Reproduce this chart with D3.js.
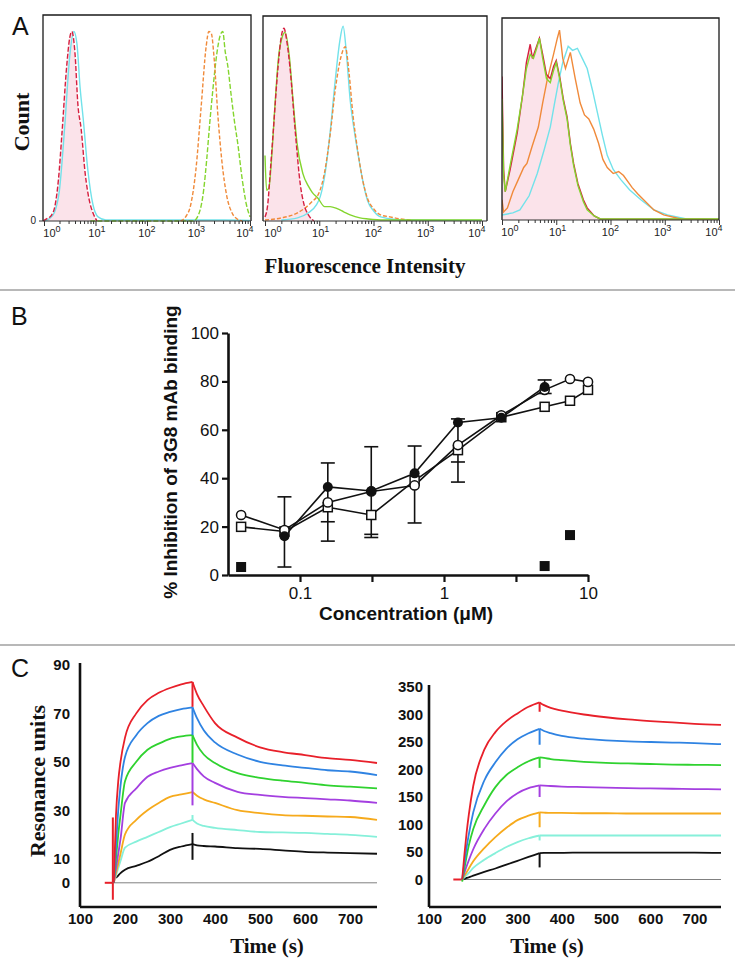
<!DOCTYPE html>
<html><head><meta charset="utf-8">
<script src="https://cdn.jsdelivr.net/npm/d3@7"></script>
<style>body{margin:0;background:#fff}svg{display:block}</style>
</head><body><svg id="fig" width="735" height="970"></svg>
<script>
// ---------------- DATA ----------------
// Panel A: flow cytometry histograms, points are [log10(intensity), % of max count]
const aDecades = [0, 1, 2, 3, 4];
const a1Red = [[-0.05,0],[0.05,1],[0.15,3],[0.21,7],[0.28,20],[0.35,43],[0.44,75],[0.5,89],[0.54,92],[0.6,82],[0.66,56],[0.72,45],[0.8,23],[0.88,10],[0.95,4],[1.03,0]];
const a1Cyan = [[0.0,0],[0.1,1],[0.2,4],[0.3,15],[0.4,45],[0.5,80],[0.58,92],[0.64,86],[0.7,65],[0.76,50],[0.85,25],[0.95,8],[1.05,2],[1.2,0.5],[3.5,0.5],[4,0.3]];
const a1Orange = [[2.65,0],[2.75,2],[2.85,8],[2.95,25],[3.05,55],[3.15,85],[3.2,92],[3.25,91],[3.3,80],[3.38,50],[3.45,30],[3.55,12],[3.65,4],[3.75,1],[3.85,0]];
const a1Green = [[0.9,0],[2.9,0],[3.0,3],[3.1,15],[3.16,30],[3.22,48],[3.28,64],[3.36,82],[3.42,90],[3.47,92],[3.52,82],[3.57,75],[3.63,62],[3.7,48],[3.76,38],[3.85,20],[3.93,8],[4.0,2]];
const a2Red = [[0,2],[0.05,8],[0.1,25],[0.15,43],[0.24,75],[0.3,90],[0.35,94],[0.4,88],[0.46,75],[0.56,43],[0.65,18],[0.72,8],[0.8,3],[0.9,0]];
const a2Green = [[0,32],[0.03,15],[0.07,16],[0.12,30],[0.18,55],[0.25,80],[0.32,90],[0.37,92],[0.45,80],[0.52,58],[0.59,38],[0.7,23],[0.8,17],[0.87,14],[0.98,11],[1.1,7],[1.2,7],[1.33,6],[1.45,4.5],[1.57,3],[1.75,1.5],[1.9,1],[2.2,0.5],[4,0.5]];
const a2Cyan = [[0.3,0.5],[0.6,1.5],[0.8,4],[0.95,8],[1.02,12],[1.1,22],[1.2,43],[1.3,70],[1.38,88],[1.44,95],[1.5,82],[1.57,59],[1.64,45],[1.7,35],[1.8,20],[1.89,10],[2.0,5],[2.13,2],[2.5,0.5],[4,0.3]];
const a2Orange = [[0,0.5],[0.3,1.5],[0.6,4],[0.85,9],[1.0,14],[1.1,24],[1.2,42],[1.3,65],[1.4,80],[1.48,85],[1.55,72],[1.62,52],[1.7,36],[1.8,20],[1.89,11],[2.0,6],[2.13,3],[2.3,2],[2.5,1],[2.7,0.3]];
const a3Red = [[0,71],[0.03,25],[0.06,14],[0.15,25],[0.28,43],[0.38,62],[0.45,78],[0.52,87],[0.56,80],[0.6,83],[0.69,90],[0.75,82],[0.82,72],[0.89,70],[0.95,76],[1.0,79],[1.07,70],[1.13,60],[1.2,51],[1.26,38],[1.32,28],[1.4,18],[1.5,10],[1.57,6],[1.7,2],[1.81,0.5],[4,0.3]];
const a3Green = [[0,60],[0.03,22],[0.06,14],[0.15,27],[0.28,45],[0.38,62],[0.45,75],[0.52,82],[0.58,80],[0.64,85],[0.69,90],[0.75,80],[0.82,70],[0.89,68],[0.95,74],[1.0,78],[1.07,69],[1.13,59],[1.2,50],[1.26,37],[1.32,27],[1.4,17],[1.5,9],[1.57,5],[1.7,2],[1.81,0.5],[4,0.5]];
const a3Orange = [[0,10],[0.03,4],[0.1,6],[0.2,14],[0.3,20],[0.4,26],[0.46,28],[0.55,36],[0.67,46],[0.75,58],[0.83,69],[0.95,82],[1.02,90],[1.06,94],[1.12,80],[1.17,75],[1.26,83],[1.35,70],[1.44,58],[1.52,52],[1.6,50],[1.69,45],[1.78,38],[1.86,30],[1.94,26],[2.05,23],[2.15,24],[2.24,22],[2.4,16],[2.5,13],[2.61,10],[2.8,5],[2.98,2.5],[3.3,0.5],[4,0.3]];
const a3Cyan = [[0,2.5],[0.1,3],[0.2,3.5],[0.33,5],[0.5,12],[0.65,23],[0.78,35],[0.89,46],[0.97,58],[1.04,68],[1.12,78],[1.22,86],[1.3,84],[1.39,85],[1.48,80],[1.57,75],[1.67,64],[1.76,53],[1.85,42],[1.94,32],[2.05,25],[2.19,20],[2.35,15],[2.56,10],[2.8,5],[3.05,2.5],[3.4,0.5],[4,0.3]];

// Panel B: inhibition vs concentration (µM)
const concB = [0.039, 0.078, 0.156, 0.3125, 0.625, 1.25, 2.5, 5, 7.5, 10];
const openCircle  = [24.8, 18.6, 30, 34.5, 37, 53.7, 66, 76.5, 81, 79.8];
const openSquare  = [19.9, 18, 28, 24.8, 39, 51.6, 65.2, 69.5, 72, 76.5];
const filledCircle= [null, 16, 36.4, 34.7, 42, 63, 65, 77.7, null, null];
const filledSquare= [3.3, null, null, null, null, null, null, 3.7, 16.5, null];
const errLo  = [null, 3.3, 14, 15.5, 21.5, 38.4, null, 75, null, null];
const errMid = [null, null, 22, 16.8, null, 46.7, null, null, null, null];
const errHi  = [null, 32.3, 46.3, 53, 53.3, 64.5, null, 80.6, null, null];
const yTicksB = [0, 20, 40, 60, 80, 100];
const xTicksB = [0.1, 1, 10];
const xTickLabelsB = ["0.1", "1", "10"];
const xMinorB = [0.316, 3.16];

// Panel C: SPR sensorgrams (time in s, resonance units)
const tAssoc = [175, 180, 185, 190, 200, 225, 250, 275, 300, 325, 350];
const tDiss  = [350, 360, 375, 400, 450, 500, 550, 600, 650, 700, 760];
const cNames = ["red", "blue", "green", "purple", "orange", "cyan", "black"];
const leftAssoc = [
  [0, 28, 42, 50, 60, 70, 75.5, 78.5, 80.5, 82, 83],
  [0, 15, 30, 40, 52, 61, 66, 69, 70.6, 71.8, 72.5],
  [0, 10, 20, 28, 42, 50, 55, 57.5, 59.5, 60.5, 61],
  [0, 6, 12, 18, 33, 39, 43.8, 46, 47.5, 48.5, 49.5],
  [0, 4, 8, 12, 20, 26, 30, 33, 35.5, 36.5, 37.5],
  [0, 3, 6, 9, 14.5, 17, 19, 21, 23, 24.5, 26],
  [null, 2, 3, 4, 5.4, 7, 8.7, 11, 13.6, 15, 16]
];
const leftDiss = [
  [83, 78, 73, 66, 60, 56, 54, 52.8, 51.5, 50.8, 49.5],
  [72.5, 68, 63, 58, 53, 50, 48.5, 47.5, 46.5, 46, 44.5],
  [61, 57, 53, 49.5, 45.3, 43.4, 42.2, 41.3, 40.3, 39.7, 39],
  [49.5, 47, 44, 41.3, 37.6, 36.3, 35.5, 35, 34.5, 34, 33],
  [37.5, 36, 34.5, 33, 30, 28.8, 28, 27.7, 27.4, 27.2, 26],
  [26, 24.5, 23.5, 22.7, 21.8, 21, 20.8, 20.6, 20.2, 19.8, 19],
  [16, 15.5, 15.2, 15, 14.3, 14, 13.4, 12.8, 12.5, 12.3, 12]
];
const leftSpike = [[72.7], [61], [49.6], [32], [], [28], [20.6, 9.5]];
const leftPre = [[155, 0], [172, 0]];
const leftInjSpike = [173, -7, 27];
const leftYTicks = [0, 10, 30, 50, 70, 90];
const rightAssoc = [
  [0, 45, 85, 118, 170, 236, 268, 288, 302, 314, 322],
  [0, 30, 58, 82, 122, 180, 213, 238, 255, 266, 274],
  [-4, 20, 42, 62, 92, 135, 168, 190, 204, 215, 222],
  [0, 12, 24, 35, 55, 92, 120, 142, 157, 166, 171],
  [0, 7, 13, 20, 33, 57, 77, 94, 108, 116, 122],
  [0, 4, 8, 12, 21, 36, 48, 59, 68, 75, 80],
  [0, 1, 3, 4, 7, 14, 20, 27, 34, 41, 48]
];
const rightDiss = [
  [322, 317, 312, 307, 300, 295, 291, 288, 285.5, 283, 281],
  [274, 270, 266, 261, 256, 253, 251, 250, 249, 248, 246],
  [222, 221, 219, 217, 214, 212, 211, 210, 209, 208.5, 208],
  [171, 170.5, 170, 169, 168, 167, 166, 165.5, 165, 164.5, 164],
  [122, 121.5, 121, 121, 120.5, 120.5, 120, 120, 120, 120, 120],
  [80, 80, 80, 80, 80, 80, 80, 80, 80, 80, 80],
  [48, 48.5, 48.5, 48.5, 49, 49, 49, 49, 49, 49, 48.5]
];
const rightSpike = [[305], [245], [203], [150], [95], [71], [22]];
const rightPre = [[155, 0], [176, 0]];
const rightYTicks = [0, 50, 100, 150, 200, 250, 300, 350];
const xTicksC = [100, 200, 300, 400, 500, 600, 700];

// ---------------- STYLE ----------------
const SANS = "'Liberation Sans', Arial, Helvetica, sans-serif";
const SERIF = "'Liberation Serif', 'Times New Roman', serif";
const cCol = {red:"#e8202a", blue:"#2f83e2", green:"#2fd22f", purple:"#a43fe0", orange:"#f6aa1c", cyan:"#86f0da", black:"#111"};
const hRed = "#d61f3f", hCyan = "#72e2ea", hOrange = "#f08a3a", hGreen = "#84d52e", hFill = "#fbe3ea";

const svg = d3.select("#fig");
svg.append("rect").attr("width", 735).attr("height", 970).attr("fill", "#fff");
[290, 645].forEach(y => svg.append("line").attr("x1", 0).attr("x2", 735).attr("y1", y).attr("y2", y)
  .attr("stroke", "#a0a0a0").attr("stroke-width", 1.5));

function letter(t, x, y) {
  svg.append("text").attr("x", x).attr("y", y).text(t)
    .attr("font-family", SANS).attr("font-size", 25).attr("fill", "#111");
}
letter("A", 12, 35); letter("B", 11, 325); letter("C", 11, 677);

// ---------------- PANEL A ----------------
const boxes = [
  {left:43, right:251, top:15, base:221, x0:44, x4:250, zero:true, curve:d3.curveMonotoneX,
   series:[{d:a1Red, fill:true}, {d:a1Cyan, c:hCyan}, {d:a1Red, c:hRed, dash:"5,2"}, {d:a1Green, c:hGreen, dash:"5,2"}, {d:a1Orange, c:hOrange, dash:"4,2"}]},
  {left:263, right:487, top:16, base:221, x0:265, x4:482, zero:false, curve:d3.curveMonotoneX,
   series:[{d:a2Red, fill:true}, {d:a2Cyan, c:hCyan}, {d:a2Orange, c:hOrange, dash:"4,2"}, {d:a2Green, c:hGreen}, {d:a2Red, c:hRed, dash:"5,2"}]},
  {left:502, right:719, top:18, base:220, x0:502, x4:719, zero:false, curve:d3.curveLinear,
   series:[{d:a3Red, fill:true}, {d:a3Cyan, c:hCyan}, {d:a3Orange, c:hOrange}, {d:a3Red, c:hRed}, {d:a3Green, c:hGreen}]}
];
const aLabelShift = [8, 1.5, 0, -2, -5];
boxes.forEach(b => {
  const g = svg.append("g");
  const x = d3.scaleLog().domain([1, 1e4]).range([b.x0, b.x4]);
  const y = d3.scaleLinear().domain([0, 100]).range([b.base, b.top]);
  const X = v => Math.max(b.left, Math.min(b.right, x(Math.pow(10, v))));
  g.append("defs").append("clipPath").attr("id", "clip" + b.left)
    .append("rect").attr("x", b.left).attr("y", b.top).attr("width", b.right - b.left).attr("height", b.base - b.top + 1);
  const pg = g.append("g").attr("clip-path", `url(#clip${b.left})`);
  b.series.forEach(s => {
    if (s.fill) {
      pg.append("path").datum(s.d)
        .attr("d", d3.area().curve(b.curve).x(d => X(d[0])).y0(b.base).y1(d => y(d[1])))
        .attr("fill", hFill).attr("stroke", "none");
    } else {
      pg.append("path").datum(s.d)
        .attr("d", d3.line().curve(b.curve).x(d => X(d[0])).y(d => y(d[1])))
        .attr("fill", "none").attr("stroke", s.c).attr("stroke-width", 1.4)
        .attr("stroke-dasharray", s.dash || null);
    }
  });
  g.append("path").attr("d", `M${b.left},${b.base}V${b.top}H${b.right}V${b.base}`)
    .attr("fill", "none").attr("stroke", "#1a1a1a").attr("stroke-width", 1.3);
  const ax = d3.axisBottom(x).tickValues(aDecades.map(k => Math.pow(10, k))).tickSize(5).tickSizeOuter(0).tickFormat("");
  const ag = g.append("g").attr("transform", `translate(0,${b.base})`).call(ax);
  ag.select(".domain").attr("stroke", "#333").attr("d", `M${b.left},0H${b.right}`);
  ag.selectAll(".tick line").attr("stroke", "#333");
  const minor = [];
  for (let k = 0; k < 4; k++) for (let m = 2; m <= 9; m++) minor.push(m * Math.pow(10, k));
  const mg = g.append("g").attr("transform", `translate(0,${b.base})`).call(d3.axisBottom(x).tickValues(minor).tickSize(3).tickFormat(""));
  mg.select(".domain").remove();
  mg.selectAll(".tick line").attr("stroke", "#333");
  aDecades.forEach((k, i) => {
    const t = g.append("text").attr("x", x(Math.pow(10, k)) + aLabelShift[i]).attr("y", b.base + 16)
      .attr("text-anchor", "middle").attr("font-family", SANS).attr("font-size", 11).attr("fill", "#222");
    t.append("tspan").text("10");
    t.append("tspan").attr("dy", -5).attr("font-size", 9).text(k);
  });
  if (b.zero) {
    g.append("line").attr("x1", b.left - 4).attr("x2", b.left).attr("y1", b.base).attr("y2", b.base).attr("stroke", "#333");
    g.append("text").attr("x", b.left - 7).attr("y", b.base + 3).attr("text-anchor", "end")
      .attr("font-family", SANS).attr("font-size", 10).attr("fill", "#222").text("0");
  }
});
svg.append("text").attr("transform", "translate(29,122) rotate(-90)").attr("text-anchor", "middle")
  .attr("font-family", SERIF).attr("font-weight", "bold").attr("font-size", 22).attr("fill", "#111").text("Count");
svg.append("text").attr("x", 365).attr("y", 273).attr("text-anchor", "middle")
  .attr("font-family", SERIF).attr("font-weight", "bold").attr("font-size", 21).attr("fill", "#111").text("Fluorescence Intensity");

// ---------------- PANEL B ----------------
{
  const g = svg.append("g");
  const x = d3.scaleLog().domain([Math.pow(10, -1.5), 10]).range([228, 588]);
  const y = d3.scaleLinear().domain([0, 100]).range([575, 333]);
  const xa = g.append("g").attr("transform", "translate(0,575)")
    .call(d3.axisBottom(x).tickValues(xTicksB.concat(xMinorB)).tickSize(7).tickSizeOuter(0).tickPadding(5)
      .tickFormat(d => { const i = xTicksB.indexOf(d); return i >= 0 ? xTickLabelsB[i] : ""; }));
  const ya = g.append("g").attr("transform", "translate(228,0)")
    .call(d3.axisLeft(y).tickValues(yTicksB).tickSize(6).tickSizeOuter(0).tickPadding(3));
  [xa, ya].forEach(a => {
    a.select(".domain").attr("stroke", "#111").attr("stroke-width", 2.6);
    a.selectAll(".tick line").attr("stroke", "#111").attr("stroke-width", 2.2);
    a.selectAll("text").attr("font-family", SANS).attr("font-size", 17).attr("fill", "#111");
  });
  const pts = vals => concB.map((c, i) => [c, vals[i]]).filter(p => p[1] != null);
  const line = d3.line().x(d => x(d[0])).y(d => y(d[1]));
  [openSquare, openCircle, filledCircle].forEach(v => {
    g.append("path").datum(pts(v)).attr("d", line).attr("fill", "none").attr("stroke", "#111").attr("stroke-width", 1.6);
  });
  concB.forEach((c, i) => {
    if (errLo[i] == null) return;
    const cx = x(c);
    g.append("line").attr("x1", cx).attr("x2", cx).attr("y1", y(errLo[i])).attr("y2", y(errHi[i]))
      .attr("stroke", "#111").attr("stroke-width", 1.6);
    [errLo[i], errHi[i], errMid[i]].filter(v => v != null).forEach(v => {
      g.append("line").attr("x1", cx - 7).attr("x2", cx + 7).attr("y1", y(v)).attr("y2", y(v))
        .attr("stroke", "#111").attr("stroke-width", 1.6);
    });
  });
  pts(openSquare).forEach(p => g.append("rect").attr("x", x(p[0]) - 4.5).attr("y", y(p[1]) - 4.5)
    .attr("width", 9).attr("height", 9).attr("fill", "#fff").attr("stroke", "#111").attr("stroke-width", 1.5));
  pts(openCircle).forEach(p => g.append("circle").attr("cx", x(p[0])).attr("cy", y(p[1])).attr("r", 4.6)
    .attr("fill", "#fff").attr("stroke", "#111").attr("stroke-width", 1.5));
  pts(filledCircle).forEach(p => g.append("circle").attr("cx", x(p[0])).attr("cy", y(p[1])).attr("r", 5)
    .attr("fill", "#111"));
  pts(filledSquare).forEach(p => g.append("rect").attr("x", x(p[0]) - 5).attr("y", y(p[1]) - 5)
    .attr("width", 10).attr("height", 10).attr("fill", "#111"));
  g.append("text").attr("transform", "translate(177,452) rotate(-90)").attr("text-anchor", "middle")
    .attr("font-family", SANS).attr("font-weight", "bold").attr("font-size", 19).attr("fill", "#111")
    .text("% Inhibition of 3G8 mAb binding");
  g.append("text").attr("x", 406).attr("y", 620).attr("text-anchor", "middle")
    .attr("font-family", SANS).attr("font-weight", "bold").attr("font-size", 19).attr("fill", "#111")
    .text("Concentration (μM)");
}

// ---------------- PANEL C ----------------
function spr(cfg) {
  const g = svg.append("g");
  const x = d3.scaleLinear().domain([100, 760]).range(cfg.xr);
  const y = d3.scaleLinear().domain(cfg.yd).range([907, cfg.yTop]);
  g.append("line").attr("x1", x(cfg.zeroStart)).attr("x2", x(760)).attr("y1", y(0)).attr("y2", y(0))
    .attr("stroke", "#808080").attr("stroke-width", 1);
  const line = d3.line().curve(d3.curveMonotoneX).x(d => x(d[0])).y(d => y(d[1]));
  g.append("path").datum(cfg.pre).attr("d", line).attr("fill", "none").attr("stroke", cCol.red).attr("stroke-width", 2);
  if (cfg.inj) g.append("line").attr("x1", x(cfg.inj[0])).attr("x2", x(cfg.inj[0])).attr("y1", y(cfg.inj[1])).attr("y2", y(cfg.inj[2]))
    .attr("stroke", cCol.red).attr("stroke-width", 2);
  for (let k = cNames.length - 1; k >= 0; k--) {
    const col = cCol[cNames[k]];
    const a = tAssoc.map((t, i) => [t, cfg.assoc[k][i]]).filter(p => p[1] != null);
    const d = tDiss.map((t, i) => [t, cfg.diss[k][i]]);
    [a, d].forEach(seg => g.append("path").datum(seg).attr("d", line).attr("fill", "none")
      .attr("stroke", col).attr("stroke-width", cfg.sw));
    cfg.spike[k].forEach(s => g.append("line").attr("x1", x(350)).attr("x2", x(350))
      .attr("y1", y(cfg.diss[k][0])).attr("y2", y(s)).attr("stroke", col).attr("stroke-width", 2));
  }
  const xa = g.append("g").attr("transform", "translate(0,907)")
    .call(d3.axisBottom(x).tickValues(xTicksC).tickSize(0).tickSizeOuter(0).tickPadding(6));
  const ya = g.append("g").attr("transform", `translate(${cfg.xr[0]},0)`)
    .call(d3.axisLeft(y).tickValues(cfg.yTicks).tickSize(0).tickSizeOuter(0).tickPadding(cfg.ypad));
  xa.select(".domain").attr("d", `M${cfg.xr[0]},0H${cfg.xr[1]}`);
  ya.select(".domain").attr("d", `M0,907V${cfg.yTop - 2}`);
  [xa, ya].forEach(a => {
    a.select(".domain").attr("stroke", "#111").attr("stroke-width", 2.6);
    a.selectAll("text").attr("font-family", SANS).attr("font-weight", "bold").attr("font-size", 15).attr("fill", "#111");
  });
  g.append("text").attr("x", cfg.titleX).attr("y", 953).attr("text-anchor", "middle")
    .attr("font-family", SERIF).attr("font-weight", "bold").attr("font-size", 21).attr("fill", "#111").text("Time (s)");
}
spr({xr:[80, 377], yd:[-10, 90], yTop:665, assoc:leftAssoc, diss:leftDiss, spike:leftSpike, pre:leftPre, inj:leftInjSpike,
     zeroStart:173, yTicks:leftYTicks, ypad:10, titleX:267, sw:1.8});
spr({xr:[429, 721], yd:[-50, 350], yTop:687, assoc:rightAssoc, diss:rightDiss, spike:rightSpike, pre:rightPre, inj:null,
     zeroStart:176, yTicks:rightYTicks, ypad:6, titleX:547, sw:1.8});
svg.append("text").attr("transform", "translate(45,781) rotate(-90)").attr("text-anchor", "middle")
  .attr("font-family", SERIF).attr("font-weight", "bold").attr("font-size", 22).attr("fill", "#111").text("Resonance units");
</script></body></html>
